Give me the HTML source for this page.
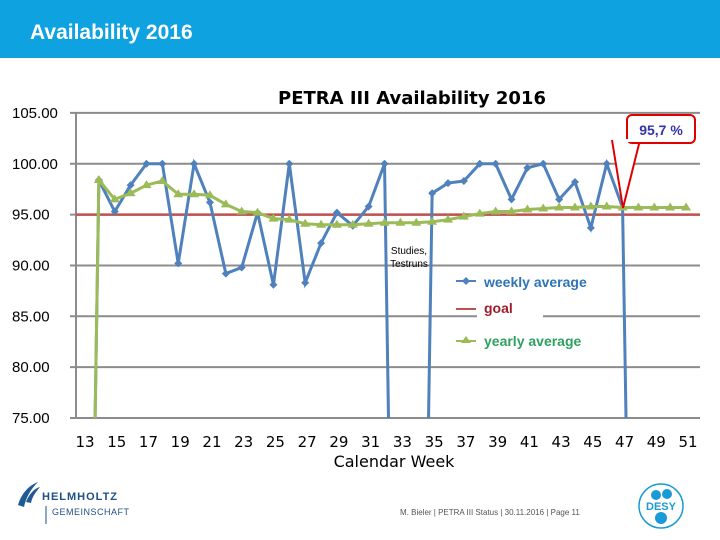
<!DOCTYPE html>
<html style="overflow:hidden"><head><meta charset="utf-8"><style>
html,body{margin:0;padding:0;width:720px;height:540px;overflow:hidden;background:#fff;font-family:"Liberation Sans",sans-serif}
svg{display:block}
</style></head><body>
<svg width="720" height="540" xmlns="http://www.w3.org/2000/svg">
<rect x="0" y="0" width="720" height="58" fill="#0ea2e0"/>
<text x="30" y="39" fill="#fff" font-size="21" font-weight="bold" font-family="Liberation Sans, sans-serif">Availability 2016</text>
<text x="412" y="104" text-anchor="middle" font-size="18" font-weight="bold" font-family="DejaVu Sans, sans-serif">PETRA III Availability 2016</text>
<g id="grid"></g>
<g id="yt"></g>
<g id="xt"></g>
<text x="394" y="467" text-anchor="middle" font-size="16" font-family="DejaVu Sans, sans-serif">Calendar Week</text>
<defs><clipPath id="cp"><rect x="76" y="100" width="640" height="318"/></clipPath></defs>
<g clip-path="url(#cp)" id="series"></g>
<text x="409" y="254" text-anchor="middle" font-size="10">Studies,</text>
<text x="409" y="267" text-anchor="middle" font-size="10">Testruns</text>
<rect x="477" y="302" width="66" height="26" fill="#fff"/>
<g><line x1="456" y1="281" x2="476" y2="281" stroke="#4f81bd" stroke-width="2"/><path d="M466 277 L470 281 L466 285 L462 281Z" fill="#4f81bd"/><text x="484" y="287" font-size="14" font-weight="bold" fill="#2e75b6">weekly average</text></g>
<g><line x1="456" y1="309" x2="476" y2="309" stroke="#c0504d" stroke-width="2"/><text x="484" y="313" font-size="14" font-weight="bold" fill="#a01c2c">goal</text></g>
<g><line x1="456" y1="341" x2="476" y2="341" stroke="#9bbb59" stroke-width="2"/><path d="M466 336 L471 343 L461 343Z" fill="#9bbb59"/><text x="484" y="346" font-size="14" font-weight="bold" fill="#2ea060">yearly average</text></g>
<g>
<path d="M612 140 L623 208 L640 140" fill="#fff" stroke="#e00000" stroke-width="2"/>
<rect x="627" y="115" width="68" height="28" rx="5" fill="#fff" stroke="#e00000" stroke-width="2"/>
<rect x="614" y="139" width="26" height="3" fill="#fff"/>
<text x="661" y="135" text-anchor="middle" font-size="14" font-weight="bold" fill="#3333aa">95,7 %</text></g>
<g>
<path d="M18 505 C22 492 30 485 38 482 C30 490 26 498 24 507Z M26 502 C30 492 36 488 40 487 C34 494 32 498 31 503Z" fill="#1f5a95"/>
<text x="42" y="500" font-size="11" font-weight="bold" fill="#1f4f85" letter-spacing="1">HELMHOLTZ</text>
<line x1="46" y1="506" x2="46" y2="524" stroke="#1f4f85"/>
<text x="52" y="515" font-size="9" fill="#1f4f85" letter-spacing="0.5">GEMEINSCHAFT</text></g>
<text x="400" y="515" font-size="8" fill="#555">M. Bieler  | PETRA III Status | 30.11.2016 | Page 11</text>
<g><circle cx="661" cy="506" r="22" fill="none" stroke="#1a9ad6" stroke-width="1.5"/><circle cx="656" cy="495" r="5" fill="#1a9ad6"/><circle cx="667" cy="494" r="5" fill="#1a9ad6"/><circle cx="661" cy="518" r="6" fill="#1a9ad6"/><text x="661" y="510" text-anchor="middle" font-size="11" font-weight="bold" fill="#1a9ad6">DESY</text></g>
</svg>
<script>
const weeks=[13,14,15,16,17,18,19,20,21,22,23,24,25,26,27,28,29,30,31,32,33,34,35,36,37,38,39,40,41,42,43,44,45,46,47,48,49,50,51];
const weekly=[0,98.4,95.3,97.9,100,100,90.2,100,96.2,89.2,89.8,95.2,88.1,100,88.3,92.2,95.2,93.9,95.8,100,0,0,97.1,98.1,98.3,100,100,96.5,99.6,100,96.5,98.2,93.7,100,95.7,0];
const yearly=[0,98.4,96.5,97.1,97.9,98.3,97.0,97.0,96.9,96.0,95.3,95.2,94.6,94.5,94.1,94.0,94.0,94.0,94.1,94.2,94.2,94.2,94.3,94.5,94.8,95.1,95.3,95.3,95.5,95.6,95.7,95.7,95.8,95.8,95.7,95.7,95.7,95.7,95.7];
const goal=95;
const yTicks=[75,80,85,90,95,100,105];
const xLabels=[13,15,17,19,21,23,25,27,29,31,33,35,37,39,41,43,45,47,49,51];
const NS='http://www.w3.org/2000/svg';
const X=w=>83+(w-13)*15.87;
const Y=v=>418-(v-75)*10.17;
function mk(t,a,p){const e=document.createElementNS(NS,t);for(const k in a)e.setAttribute(k,a[k]);p.appendChild(e);return e;}
const grid=document.getElementById('grid'),yt=document.getElementById('yt'),xt=document.getElementById('xt'),ser=document.getElementById('series');
yTicks.forEach(v=>{
 const l=mk('line',{x1:70,x2:700,y1:Y(v),y2:Y(v),stroke:'#8c8c8c','stroke-width':2},grid);
 
 
 const t=mk('text',{x:12,y:Y(v)+5,'font-size':15,'font-family':'Liberation Sans, sans-serif'},yt);
 t.textContent=v.toFixed(2);
 
 
});
const ax=mk('line',{x1:76,x2:76,y1:Y(105),y2:Y(75),stroke:'#8c8c8c','stroke-width':2},grid);


xLabels.forEach(w=>{
 const t=mk('text',{x:X(w)+2,y:447,'text-anchor':'middle','font-size':15,'font-family':'DejaVu Sans, sans-serif'},xt);
 t.textContent=w;
 
 
});
const gl=mk('line',{x1:70,x2:700,y1:Y(goal),y2:Y(goal),stroke:'#c0504d','stroke-width':2.5},ser);


const pw=weekly.map((v,i)=>X(weeks[i])+','+Y(v)).join(' ');
const lw=mk('polyline',{points:pw,fill:'none',stroke:'#4f81bd','stroke-width':3},ser);


weekly.forEach((v,i)=>{if(v<75)return;const x=X(weeks[i]),y=Y(v);
 const m=mk('path',{d:`M${x} ${y-4}L${x+4} ${y}L${x} ${y+4}L${x-4} ${y}Z`,fill:'#4f81bd'},ser);
 
 });
const py=yearly.map((v,i)=>X(weeks[i])+','+Y(v)).join(' ');
const ly=mk('polyline',{points:py,fill:'none',stroke:'#9bbb59','stroke-width':3},ser);


yearly.forEach((v,i)=>{if(v<75)return;const x=X(weeks[i]),y=Y(v);
 const m=mk('path',{d:`M${x} ${y-5}L${x+5} ${y+3}L${x-5} ${y+3}Z`,fill:'#9bbb59'},ser);
 
 });
</script>
</body></html>
